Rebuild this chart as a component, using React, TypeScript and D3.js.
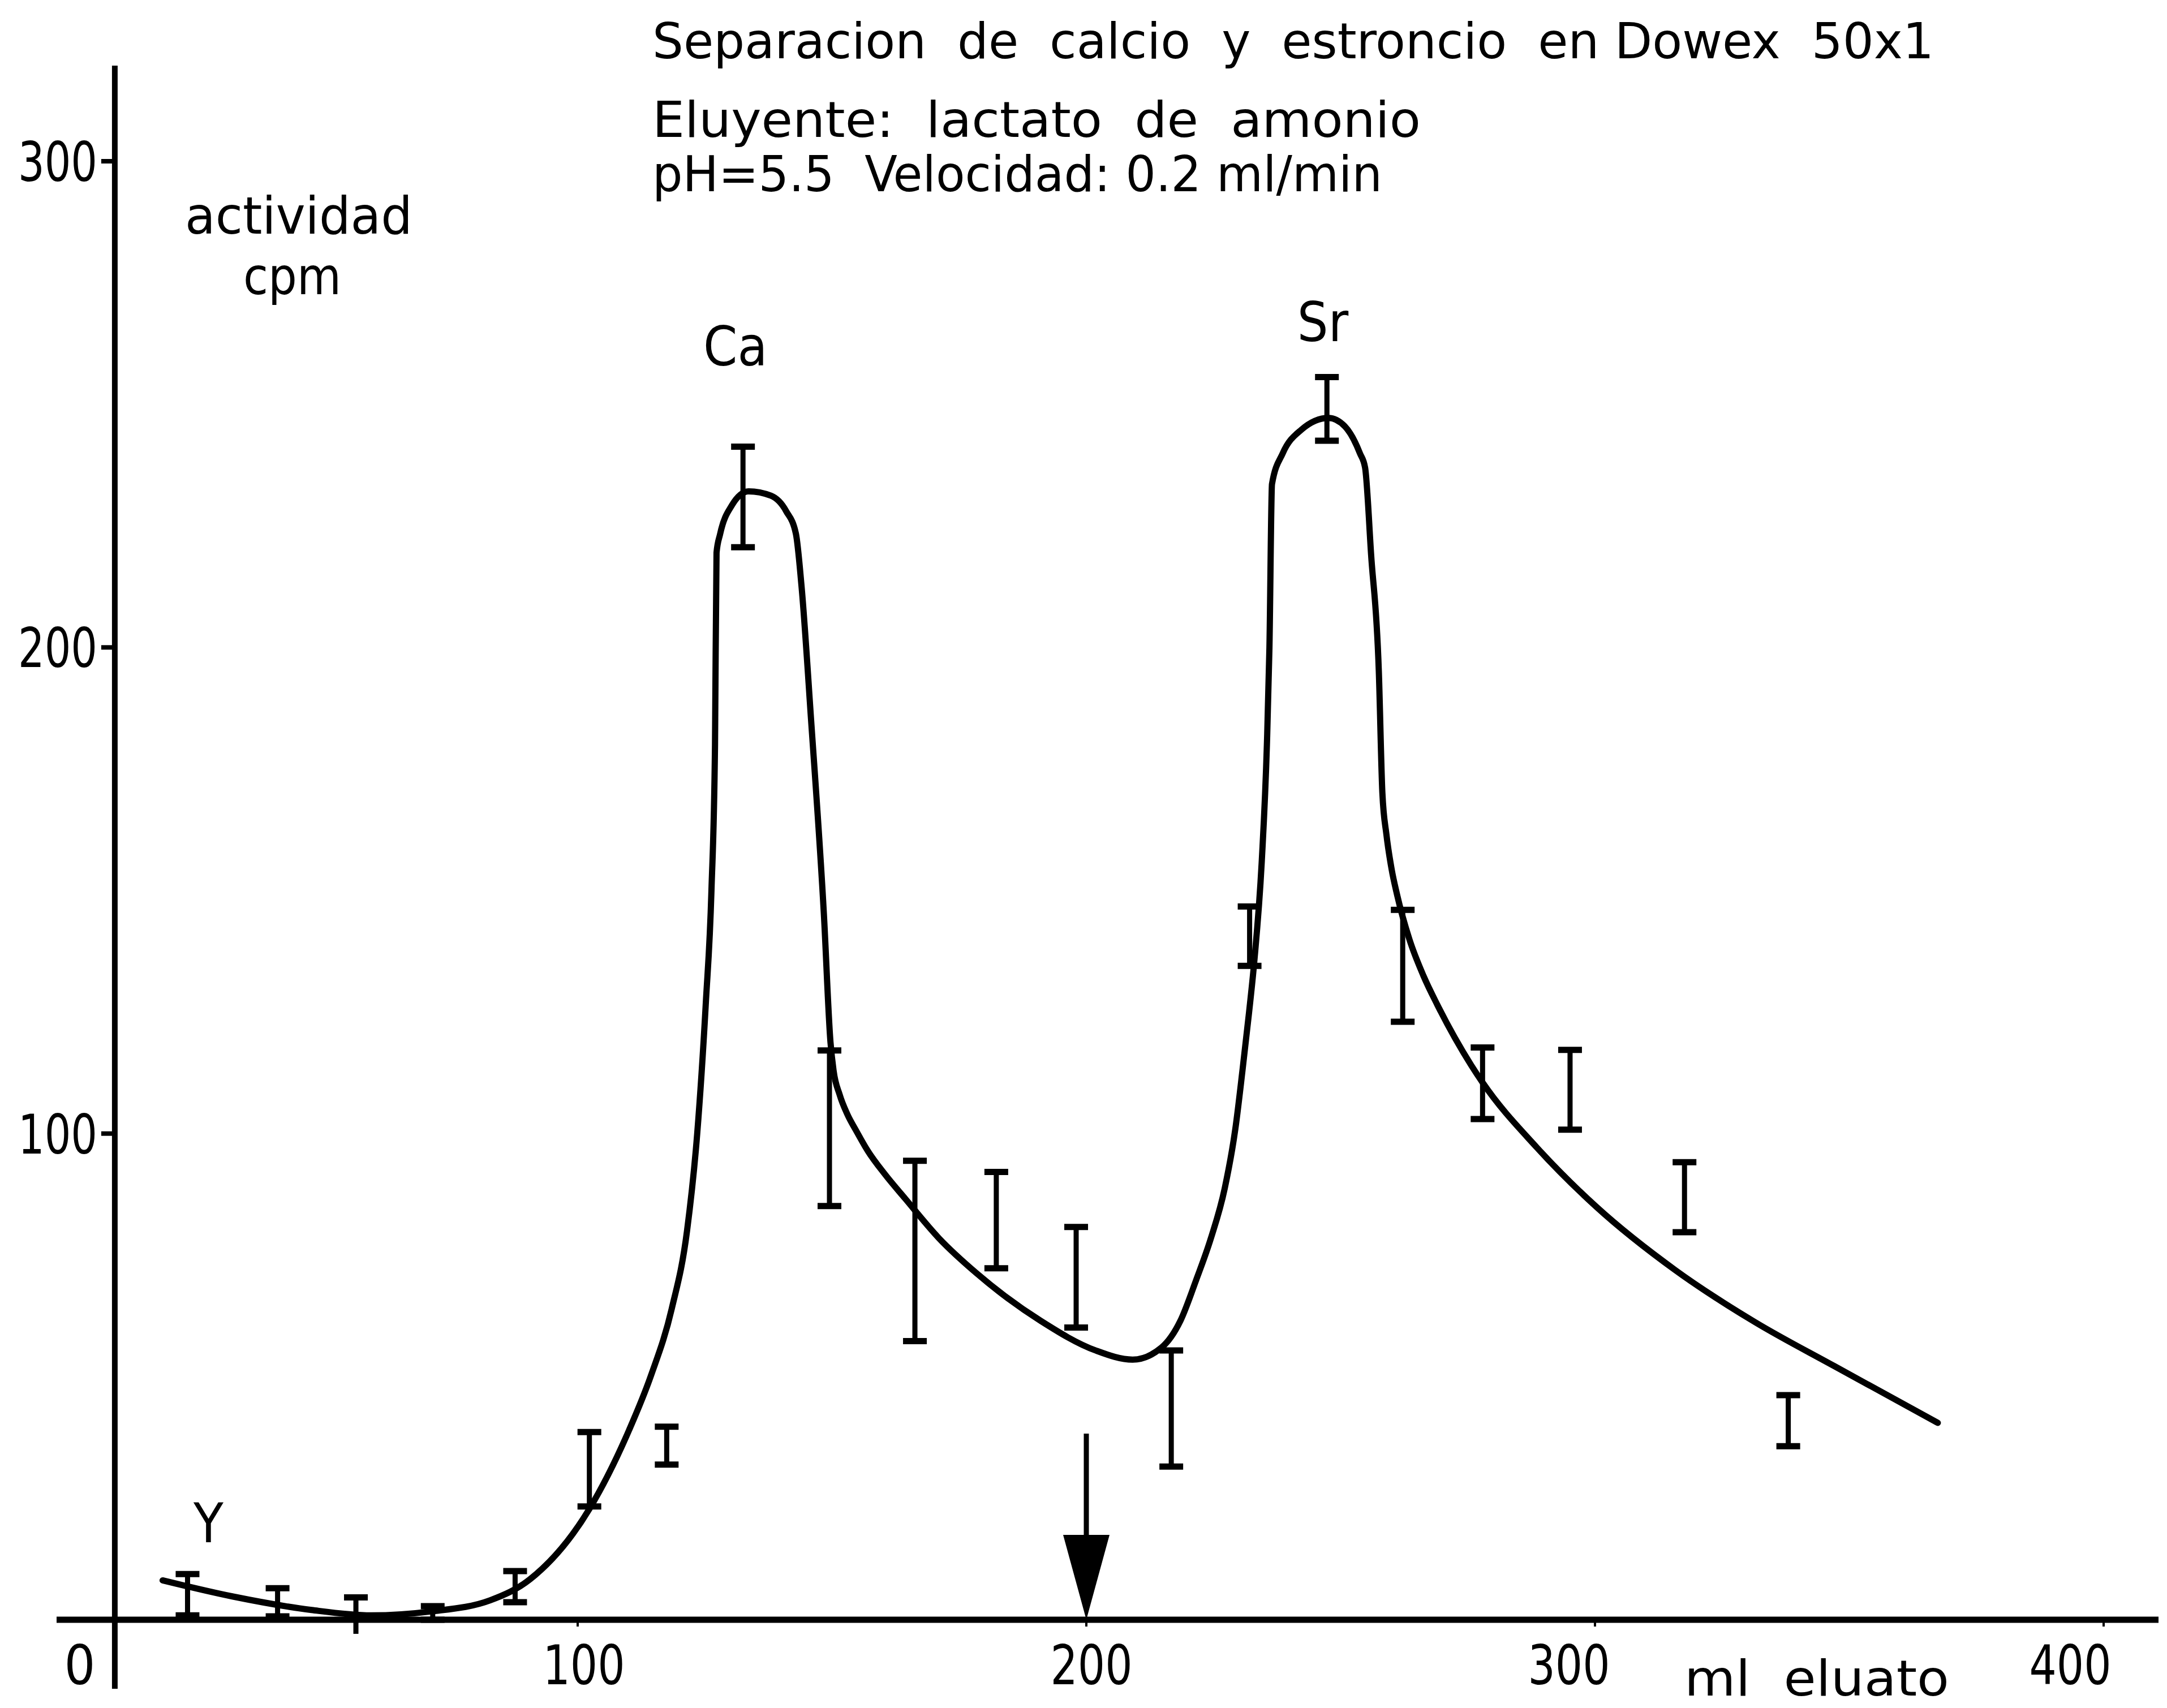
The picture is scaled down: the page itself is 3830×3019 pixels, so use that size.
import { useMemo } from "react";
import * as d3 from "d3";

// smooth curve drawn through the elution profile (ml eluate -> cpm)
const curveMl = [
  18.4, 32.1, 47.7, 59.4, 71.1, 82.8, 90.6, 102.3, 110.1, 114.4, 118.5, 121.5,
  123.5, 125.2, 126.3, 127.0, 127.3, 128.0, 130.3, 133.6, 138.0, 141.0, 142.9,
  144.0, 145.9, 148.4, 149.7, 150.3, 151.5, 153.0, 154.8, 157.0, 160.5, 164.4,
  171.0, 178.5, 191.0, 201.8, 209.1, 214.8, 218.5, 221.6, 224.5, 227.2, 229.3,
  230.7, 232.0, 233.0, 234.5, 235.5, 236.0, 236.5, 238.6, 242.3, 247.6, 250.8,
  253.8, 254.8, 256.0, 257.5, 258.2, 259.0, 260.0, 261.1, 263.5, 266.3, 269.0,
  275.7, 277.9, 288.6, 300.3, 315.8, 331.5, 347.0, 367.4,
];
const curveCpm = [
  8.1, 4.8, 2.0, 0.9, 1.7, 4.0, 8.3, 22.8, 39.0, 50.2, 64.0, 80.0,
  100.0, 127.0, 150.0, 180.0, 219.5, 223.3, 229.2, 232.1, 231.2, 228.0, 223.4,
  212.7, 184.9, 145.2, 118.8, 113.0, 108.0, 104.0, 100.5, 96.5, 91.5, 86.6,
  78.5, 71.2, 61.5, 55.4, 53.5, 56.0, 61.5, 69.9, 78.5, 88.7, 101.0,
  113.0, 125.0, 135.2, 156.2, 180.0, 200.0, 233.6, 239.9, 244.8, 247.2, 245.5,
  239.9, 237.0, 218.9, 195.2, 170.1, 161.5, 154.5, 149.1, 140.0, 132.4, 126.5,
  114.0, 110.5, 97.1, 84.9, 71.9, 61.2, 52.2, 40.5,
];

// measured fractions with their error bars
const fractionMl = [
  23.3, 41.0, 56.4, 71.5, 87.7, 102.3, 117.5, 132.5, 149.5, 166.3, 182.3,
  198.0, 216.7, 232.1, 247.3, 262.2, 277.9, 295.1, 317.6, 338.0,
];
const lowCpm = [
  0.9, 0.7, -2.9, 0.0, 3.6, 23.3, 31.9, 220.6, 85.1, 57.3, 72.3,
  60.1, 31.5, 134.5, 242.5, 123.0, 103.0, 100.8, 79.7, 35.7,
];
const highCpm = [
  9.4, 6.5, 4.6, 2.8, 10.0, 38.6, 39.7, 241.3, 117.1, 94.4, 92.1,
  80.8, 55.4, 146.7, 255.6, 146.0, 117.7, 117.2, 94.1, 46.2,
];

const xTicks = [0, 100, 200, 300, 400];
const yTicks = [100, 200, 300];

const peakNames = ["Y", "Ca", "Sr"];
const peakMl = [27.4, 131, 246.5];
const peakCpm = [16, 258, 263];

// change of eluent marked by the arrow
const arrowMl = 200;
const arrowFromCpm = 38.3;

const titleLines = [
  "Separacion  de  calcio  y  estroncio  en Dowex  50x1",
  "Eluyente:  lactato  de  amonio",
  "pH=5.5  Velocidad: 0.2 ml/min",
];

const W = 3830;
const H = 3019;
const FONT = "'DejaVu Sans Condensed', 'DejaVu Sans', 'Liberation Sans', sans-serif";

export default function App() {
  const x = useMemo(() => d3.scaleLinear().domain([0, 400]).range([122, 3718]), []);
  const y = useMemo(() => d3.scaleLinear().domain([0, 300]).range([2863, 285]), []);

  const curvePath = useMemo(() => {
    const pts: [number, number][] = curveMl.map((m, i) => [m, curveCpm[i]]);
    return d3
      .line<[number, number]>()
      .x((d) => x(d[0]))
      .y((d) => y(d[1]))
      .curve(d3.curveMonotoneX)(pts);
  }, [x, y]);

  const yAxisX = x(9);
  const x0 = y(0);
  const capW = 42;
  const headW = 82;
  const headH = 150;
  const ax = x(arrowMl);

  // hand lettered labels sit a little off their ticks
  const xLabelDx = [19, 11, 9, -46, -59];
  const titleWidths = [2265, 1358, 1290];
  const titleBase = [103, 242, 338];
  const pre = { whiteSpace: "pre" as const };

  return (
    <svg
      width={W}
      height={H}
      viewBox={`0 0 ${W} ${H}`}
      style={{ position: "absolute", left: 0, top: 0, background: "#fff" }}
      fontFamily={FONT}
    >
      <rect width={W} height={H} fill="#fff" />

      {/* axes */}
      <line x1={100} x2={3815} y1={x0} y2={x0} stroke="#000" strokeWidth={11} />
      <line x1={yAxisX} x2={yAxisX} y1={116} y2={2985} stroke="#000" strokeWidth={10} />

      {yTicks.map((t) => (
        <g key={`y${t}`}>
          <line x1={yAxisX - 24} x2={yAxisX} y1={y(t)} y2={y(t)} stroke="#000" strokeWidth={8} />
          <text
            x={172}
            y={y(t) + 35}
            fontSize={96}
            textAnchor="end"
            textLength={140}
            lengthAdjust="spacingAndGlyphs"
          >
            {t}
          </text>
        </g>
      ))}

      {xTicks.map((t, i) => (
        <g key={`x${t}`}>
          {t > 0 && (
            <line x1={x(t)} x2={x(t)} y1={x0} y2={x0 + 12} stroke="#000" strokeWidth={4} />
          )}
          <text
            x={x(t) + xLabelDx[i]}
            y={2977}
            fontSize={96}
            textAnchor="middle"
            textLength={t === 0 ? undefined : 145}
            lengthAdjust="spacingAndGlyphs"
          >
            {t}
          </text>
        </g>
      ))}

      <text x={2977} y={2997} fontSize={88} textLength={468} lengthAdjust="spacingAndGlyphs" style={pre}>
        ml  eluato
      </text>

      <text x={327} y={413} fontSize={90} textLength={402} lengthAdjust="spacingAndGlyphs">
        actividad
      </text>
      <text x={430} y={520} fontSize={90} textLength={173} lengthAdjust="spacingAndGlyphs">
        cpm
      </text>

      {titleLines.map((line, i) => (
        <text
          key={line}
          x={1153}
          y={titleBase[i]}
          fontSize={88}
          textLength={titleWidths[i]}
          lengthAdjust="spacingAndGlyphs"
          style={pre}
        >
          {line}
        </text>
      ))}

      {peakNames.map((name, i) => (
        <text key={name} x={x(peakMl[i])} y={y(peakCpm[i])} fontSize={96} textAnchor="middle">
          {name}
        </text>
      ))}

      {/* elution curve */}
      <path
        d={curvePath ?? ""}
        fill="none"
        stroke="#000"
        strokeWidth={11}
        strokeLinejoin="round"
        strokeLinecap="round"
      />

      {/* error bars */}
      {fractionMl.map((m, i) => {
        const cx = x(m);
        const top = y(highCpm[i]);
        const bottom = y(lowCpm[i]);
        return (
          <g key={`e${i}`} stroke="#000">
            <line x1={cx} x2={cx} y1={top} y2={bottom} strokeWidth={9} />
            <line x1={cx - capW / 2} x2={cx + capW / 2} y1={top} y2={top} strokeWidth={11} />
            {lowCpm[i] >= 0 && (
              <line x1={cx - capW / 2} x2={cx + capW / 2} y1={bottom} y2={bottom} strokeWidth={11} />
            )}
          </g>
        );
      })}

      {/* arrow */}
      <line x1={ax} x2={ax} y1={y(arrowFromCpm)} y2={x0 - headH} stroke="#000" strokeWidth={9} />
      <path
        d={`M${ax - headW / 2},${x0 - headH} L${ax + headW / 2},${x0 - headH} L${ax},${x0} Z`}
        fill="#000"
      />
    </svg>
  );
}
